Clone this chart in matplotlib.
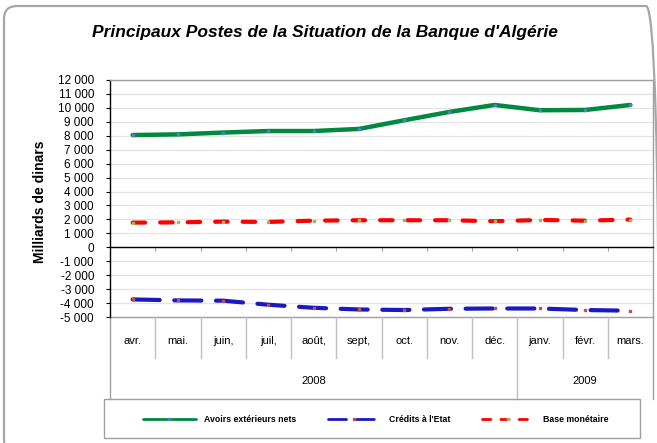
import numpy as np
import matplotlib
matplotlib.use("Agg")
import matplotlib.pyplot as plt
import matplotlib.transforms as mtransforms
from matplotlib.patches import FancyBboxPatch, Rectangle
from matplotlib.ticker import FuncFormatter, MultipleLocator

# Data (milliards de dinars)
months = ["avr.", "mai.", "juin,", "juil,", "août,", "sept,", "oct.", "nov.", "déc.",
          "janv.", "févr.", "mars."]
years = ["2008", "2009"]
year_counts = [9, 3]

avoirs = [8050, 8100, 8230, 8340, 8340, 8490, 9110, 9710, 10210, 9830, 9850, 10210]
credits = [-3740, -3810, -3830, -4120, -4340, -4460, -4500, -4410, -4390, -4390, -4500, -4550]
base = [1770, 1790, 1840, 1820, 1910, 1940, 1940, 1940, 1870, 1960, 1910, 1990]

plt.rcParams["font.family"] = ["Liberation Sans", "DejaVu Sans"]

W, H = 657, 443
fig = plt.figure(figsize=(W / 100, H / 100), dpi=100)

# outer rounded frame (inches)
fig.patches.append(FancyBboxPatch((0.04, -0.10), 6.55, 4.47,
                                  boxstyle="round,pad=0,rounding_size=0.13",
                                  transform=fig.dpi_scale_trans, fill=False,
                                  edgecolor="#a6a6a6", linewidth=1.6))

ax = fig.add_axes([110 / W, 1 - 317 / H, 543 / W, 237 / H])
x = np.arange(len(months))

ax.plot(x, avoirs, color="#00893f", lw=3.2, solid_capstyle="round",
        marker="s", ms=2, mfc="#4f81bd", mec="#4f81bd", label="Avoirs extérieurs nets", zorder=4)
ax.plot(x, credits, color="#1a1ac0", lw=3.0, dashes=(6.5, 3.5), dash_capstyle="round",
        marker="s", ms=2, mfc="#c0504d", mec="#c0504d", label="Crédits à l'Etat", zorder=4)
ax.plot(x, base, color="#ff0000", lw=3.0, dashes=(3, 3.6), dash_capstyle="round",
        marker="s", ms=2, mfc="#9bbb59", mec="#9bbb59", label="Base monétaire", zorder=4)

ax.set_xlim(-0.5, len(months) - 0.5)
ax.set_ylim(-5000, 12000)
ax.yaxis.set_major_locator(MultipleLocator(1000))
ax.yaxis.set_major_formatter(FuncFormatter(lambda v, _: f"{int(v):,}".replace(",", " ")))
ax.tick_params(axis="y", labelsize=8.5, length=3, width=0.8, pad=8.5, color="black")
ax.grid(axis="y", color="#e4e4e4", lw=0.9)
ax.set_axisbelow(True)

for s in ["top", "right"]:
    ax.spines[s].set_color("#a0a0a0")
    ax.spines[s].set_linewidth(1.0)
ax.spines["left"].set_color("black")
ax.spines["left"].set_linewidth(1.0)
ax.spines["bottom"].set_position(("data", 0))
ax.spines["bottom"].set_color("black")
ax.spines["bottom"].set_linewidth(1.0)
ax.axhline(-5000, color="#a0a0a0", lw=1.0, clip_on=False)

# small ticks on the zero line at category boundaries
ax.set_xticks(x[:-1] + 0.5)
ax.set_xticklabels([])
ax.tick_params(axis="x", length=3, width=0.8, color="#a0a0a0", direction="out")

# multi-level category axis below the plot
trans = mtransforms.blended_transform_factory(ax.transData, ax.transAxes)
y_month = -(340.5 - 317) / 237
y_div = -(358 - 317) / 237
y_year = -(381.5 - 317) / 237
y_full = -(398.5 - 317) / 237
for i, m in enumerate(months):
    ax.text(i, y_month, m, transform=trans, ha="center", va="center", fontsize=8)
group_edges = np.cumsum([0] + year_counts) - 0.5
for b in x[:-1] + 0.5:
    bottom = y_full if b in group_edges else y_div
    ax.plot([b, b], [0, bottom], transform=trans, color="#c0c0c0", lw=1.0, clip_on=False)
for e in (group_edges[0], group_edges[-1]):
    ax.plot([e, e], [0, y_full], transform=trans, color="#a0a0a0", lw=1.0, clip_on=False)
start = 0
for yr, n in zip(years, year_counts):
    ax.text(start + (n - 1) / 2, y_year, yr, transform=trans, ha="center", va="center", fontsize=8)
    start += n

fig.text(40 / W, 1 - 201.5 / H, "Milliards de dinars", rotation=90, ha="center", va="center",
         fontsize=10, fontweight="bold")

fig.text(325 / W, 1 - 33 / H, "Principaux Postes de la Situation de la Banque d'Algérie",
         ha="center", va="center", fontsize=12.5, fontweight="bold", style="italic")

# legend box
fig.patches.append(Rectangle((104 / W, 1 - 438 / H), 536 / W, 39 / H, transform=fig.transFigure,
                             fill=False, edgecolor="#a0a0a0", lw=1.0))
h, l = ax.get_legend_handles_labels()
leg = fig.legend(h, l, loc="center", bbox_to_anchor=(376 / W, 1 - 420 / H), ncol=3,
                 frameon=False, prop={"size": 6.3, "weight": "bold"}, handlelength=6.0,
                 handletextpad=1.0, columnspacing=3.6, numpoints=1)
for line in leg.get_lines():
    line.set_linewidth(2.0)

fig.savefig("out.png", dpi=100)
